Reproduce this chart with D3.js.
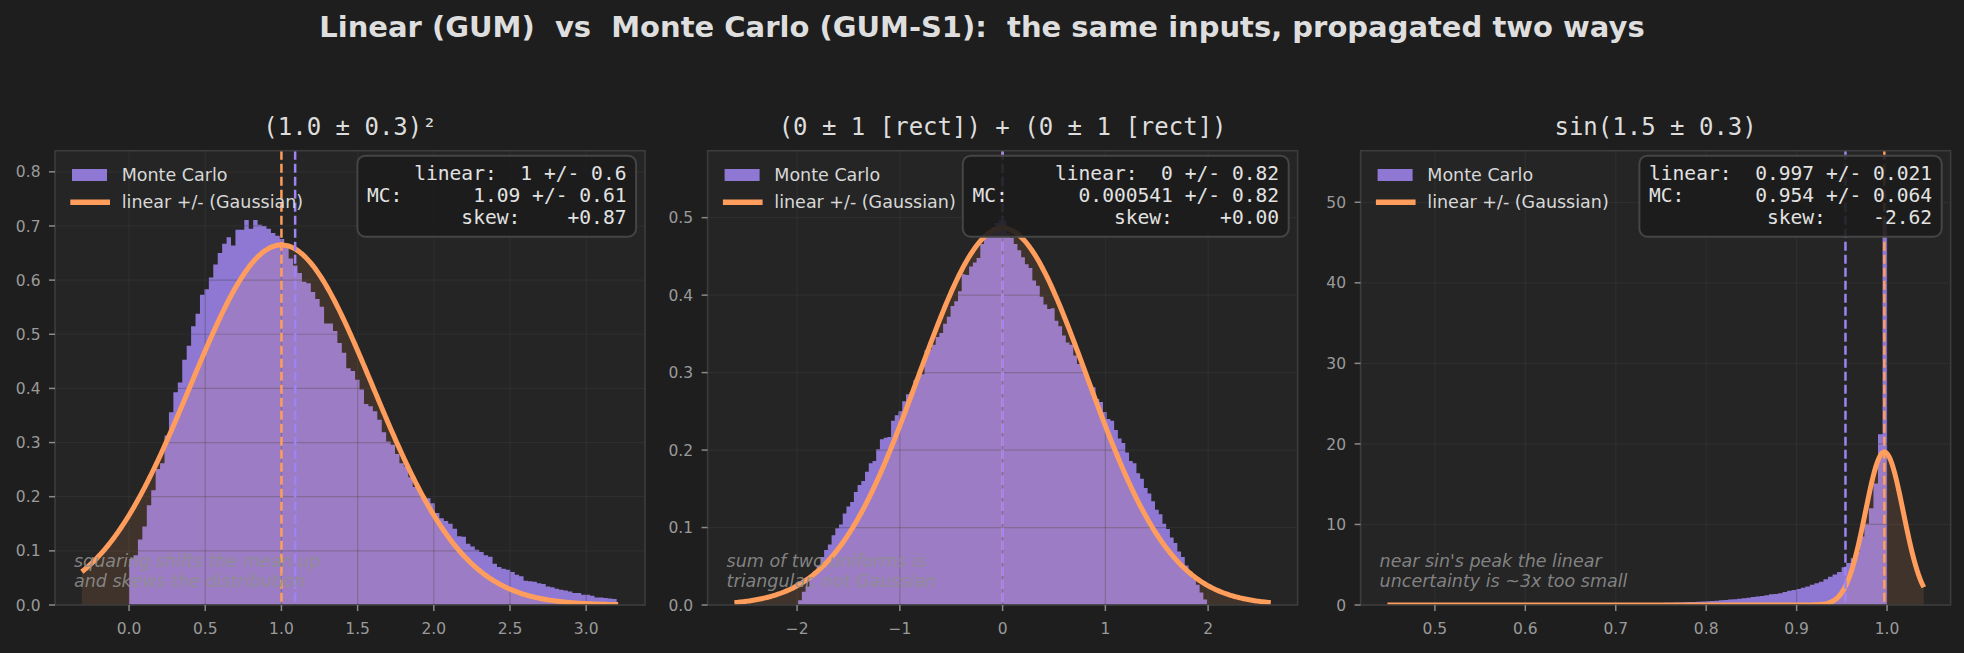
<!DOCTYPE html>
<html>
<head>
<meta charset="utf-8">
<script src="https://cdn.jsdelivr.net/npm/d3@7"></script>
<style>
  body { margin: 0; background: #1e1e1e; }
  text { white-space: pre; }
</style>
</head>
<body>
<div id="chart"></div>
<script>
// ---- data ----
var suptitle = "Linear (GUM)  vs  Monte Carlo (GUM-S1):  the same inputs, propagated two ways";
var panelTitles = ["(1.0 \u00b1 0.3)\u00b2", "(0 \u00b1 1 [rect]) + (0 \u00b1 1 [rect])", "sin(1.5 \u00b1 0.3)"];

// histogram range of each panel (110 equal bins) and densities
var histLo = [0.0, -1.99, 0.4475];
var histHi = [3.20, 1.99, 1.0];

var histSquare = [
  0.085, 0.092, 0.121, 0.145, 0.184, 0.212, 0.251, 0.262, 0.313, 0.356,
  0.393, 0.411, 0.453, 0.479, 0.515, 0.538, 0.573, 0.583, 0.605, 0.629,
  0.650, 0.667, 0.679, 0.664, 0.693, 0.693, 0.711, 0.695, 0.711, 0.702,
  0.700, 0.695, 0.687, 0.682, 0.676, 0.667, 0.640, 0.627, 0.613, 0.597,
  0.594, 0.578, 0.565, 0.551, 0.520, 0.520, 0.506, 0.484, 0.466, 0.437,
  0.432, 0.416, 0.398, 0.371, 0.367, 0.358, 0.342, 0.319, 0.302, 0.296,
  0.279, 0.262, 0.256, 0.236, 0.218, 0.212, 0.200, 0.197, 0.188, 0.170,
  0.160, 0.155, 0.150, 0.141, 0.127, 0.126, 0.113, 0.108, 0.102, 0.098,
  0.092, 0.089, 0.076, 0.070, 0.067, 0.065, 0.061, 0.056, 0.053, 0.045,
  0.044, 0.043, 0.040, 0.039, 0.034, 0.033, 0.030, 0.028, 0.027, 0.025,
  0.022, 0.022, 0.019, 0.019, 0.017, 0.014, 0.014, 0.013, 0.012, 0.011
];

var histRect = [
  0.006, 0.017, 0.024, 0.036, 0.044, 0.051, 0.062, 0.071, 0.078, 0.090,
  0.099, 0.104, 0.118, 0.127, 0.133, 0.146, 0.155, 0.160, 0.172, 0.183,
  0.186, 0.201, 0.214, 0.216, 0.217, 0.238, 0.245, 0.250, 0.263, 0.272,
  0.275, 0.290, 0.301, 0.298, 0.329, 0.330, 0.336, 0.346, 0.351, 0.363,
  0.372, 0.386, 0.392, 0.405, 0.427, 0.426, 0.437, 0.442, 0.448, 0.466,
  0.474, 0.483, 0.488, 0.493, 0.497, 0.496, 0.480, 0.474, 0.466, 0.458,
  0.449, 0.440, 0.435, 0.419, 0.412, 0.398, 0.388, 0.382, 0.383, 0.367,
  0.360, 0.348, 0.339, 0.336, 0.322, 0.311, 0.309, 0.296, 0.284, 0.281,
  0.266, 0.262, 0.249, 0.240, 0.238, 0.226, 0.215, 0.209, 0.197, 0.186,
  0.183, 0.170, 0.163, 0.151, 0.144, 0.134, 0.123, 0.117, 0.105, 0.098,
  0.087, 0.080, 0.069, 0.062, 0.051, 0.044, 0.034, 0.026, 0.016, 0.007
];

var histSin = [
  0.004, 0.002, 0.006, 0.004, 0.008, 0.004, 0.010, 0.006, 0.012, 0.008,
  0.014, 0.010, 0.012, 0.016, 0.014, 0.018, 0.020, 0.016, 0.022, 0.024,
  0.024, 0.026, 0.028, 0.030, 0.028, 0.032, 0.034, 0.030, 0.036, 0.038,
  0.036, 0.040, 0.044, 0.042, 0.048, 0.050, 0.054, 0.052, 0.058, 0.062,
  0.066, 0.072, 0.076, 0.080, 0.086, 0.092, 0.098, 0.104, 0.110, 0.118,
  0.126, 0.134, 0.142, 0.150, 0.162, 0.172, 0.184, 0.196, 0.210, 0.224,
  0.25, 0.265, 0.28, 0.30, 0.32, 0.34, 0.36, 0.385, 0.41, 0.44,
  0.47, 0.50, 0.54, 0.58, 0.62, 0.67, 0.72, 0.78, 0.84, 0.91,
  0.99, 1.05, 1.12, 1.20, 1.32, 1.37, 1.45, 1.62, 1.76, 1.86,
  2.0, 2.15, 2.3, 2.5, 2.7, 2.9, 3.2, 3.5, 3.8, 4.1,
  4.7, 5.2, 5.8, 6.6, 8.5, 10.1, 12.0, 15.1, 21.2, 47.8
];

// linear (GUM) and Monte Carlo summaries
var linearMean = [1, 0, 0.997];
var linearSd = [0.6, 0.82, 0.021];
var mcMean = [1.09, 0.000541, 0.954];
var curveLo = [-0.31, -2.61, 0.4475];
var curveHi = [3.21, 2.61, 1.0406];

var statsText = [
  ["linear:  1 +/- 0.6", "MC:      1.09 +/- 0.61", "skew:    +0.87"],
  ["linear:  0 +/- 0.82", "MC:      0.000541 +/- 0.82", "skew:    +0.00"],
  ["linear:  0.997 +/- 0.021", "MC:      0.954 +/- 0.064", "skew:    -2.62"]
];

var notes = [
  ["squaring shifts the mean up", "and skews the distribution"],
  ["sum of two uniforms is", "triangular, not Gaussian"],
  ["near sin's peak the linear", "uncertainty is ~3x too small"]
];

var xTicks = [[0, 0.5, 1.0, 1.5, 2.0, 2.5, 3.0], [-2, -1, 0, 1, 2], [0.5, 0.6, 0.7, 0.8, 0.9, 1.0]];
var xTickLabels = [["0.0", "0.5", "1.0", "1.5", "2.0", "2.5", "3.0"],
                   ["\u22122", "\u22121", "0", "1", "2"],
                   ["0.5", "0.6", "0.7", "0.8", "0.9", "1.0"]];
var yTicks = [[0, 0.1, 0.2, 0.3, 0.4, 0.5, 0.6, 0.7, 0.8], [0, 0.1, 0.2, 0.3, 0.4, 0.5], [0, 10, 20, 30, 40, 50]];
var yTickLabels = [["0.0", "0.1", "0.2", "0.3", "0.4", "0.5", "0.6", "0.7", "0.8"],
                   ["0.0", "0.1", "0.2", "0.3", "0.4", "0.5"],
                   ["0", "10", "20", "30", "40", "50"]];

var hists = [histSquare, histRect, histSin];
var legendLabels = ["Monte Carlo", "linear +/- (Gaussian)"];

// ---- layout / style ----
var width = 1964, height = 653;
var axLeft = [55, 707.6, 1360.6];
var axW = 590, axTop = 150.7, axBottom = 605;
var figBg = "#1e1e1e", axBg = "#252525";
var purple = "#9b82e8", purpleLine = "#9d84f2", orange = "#ff9d5c";
var sans = "'DejaVu Sans', sans-serif", mono = "'DejaVu Sans Mono', monospace";

var svg = d3.select("#chart").append("svg")
  .attr("width", width)
  .attr("height", height)
  .style("background", figBg);

svg.append("text")
  .attr("x", width / 2)
  .attr("y", 36.7)
  .attr("text-anchor", "middle")
  .attr("font-family", sans)
  .attr("font-weight", "bold")
  .attr("font-size", "29px")
  .attr("fill", "#dedede")
  .text(suptitle);

function normalPdf(x, mu, sd) {
  var z = (x - mu) / sd;
  return Math.exp(-0.5 * z * z) / (sd * Math.sqrt(2 * Math.PI));
}

for (var p = 0; p < 3; p++) {
  var L = axLeft[p];
  var counts = hists[p];
  var nb = counts.length;
  var bw = (histHi[p] - histLo[p]) / nb;

  // x range of data padded by 5% like the original
  var dmin = Math.min(curveLo[p], histLo[p]);
  var dmax = Math.max(curveHi[p], histHi[p]);
  var pad = (dmax - dmin) * 0.05;
  var x = d3.scaleLinear().domain([dmin - pad, dmax + pad]).range([L, L + axW]);
  var y = d3.scaleLinear().domain([0, d3.max(counts) * 1.18]).range([axBottom, axTop]);

  var g = svg.append("g");
  var clipId = "clip" + p;
  g.append("clipPath").attr("id", clipId)
    .append("rect").attr("x", L).attr("y", axTop).attr("width", axW).attr("height", axBottom - axTop);

  g.append("rect")
    .attr("x", L).attr("y", axTop)
    .attr("width", axW).attr("height", axBottom - axTop)
    .attr("fill", axBg);

  var plot = g.append("g").attr("clip-path", "url(#" + clipId + ")");

  // histogram as a step area
  var steps = counts.map(function(c, i) { return {x: histLo[p] + i * bw, y: c}; });
  steps.push({x: histHi[p], y: counts[nb - 1]});
  plot.append("path")
    .datum(steps)
    .attr("fill", purple)
    .attr("opacity", 0.9)
    .attr("d", d3.area()
      .curve(d3.curveStepAfter)
      .x(function(d) { return x(d.x); })
      .y0(y(0))
      .y1(function(d) { return y(d.y); }));

  // grid
  plot.selectAll(".gx").data(xTicks[p]).enter().append("line")
    .attr("x1", function(d) { return x(d); }).attr("x2", function(d) { return x(d); })
    .attr("y1", axTop).attr("y2", axBottom)
    .attr("stroke", "#404040").attr("stroke-opacity", 0.35).attr("stroke-width", 1.2);
  plot.selectAll(".gy").data(yTicks[p]).enter().append("line")
    .attr("x1", L).attr("x2", L + axW)
    .attr("y1", function(d) { return y(d); }).attr("y2", function(d) { return y(d); })
    .attr("stroke", "#404040").attr("stroke-opacity", 0.35).attr("stroke-width", 1.2);

  // linear Gaussian
  var curve = d3.range(0, 401).map(function(i) {
    var xv = curveLo[p] + (curveHi[p] - curveLo[p]) * i / 400;
    return {x: xv, y: normalPdf(xv, linearMean[p], linearSd[p])};
  });
  plot.append("path")
    .datum(curve)
    .attr("fill", orange)
    .attr("fill-opacity", 0.12)
    .attr("d", d3.area()
      .x(function(d) { return x(d.x); })
      .y0(y(0))
      .y1(function(d) { return y(d.y); }));
  plot.append("path")
    .datum(curve)
    .attr("fill", "none")
    .attr("stroke", orange)
    .attr("stroke-width", 5)
    .attr("d", d3.line()
      .x(function(d) { return x(d.x); })
      .y(function(d) { return y(d.y); }));

  // mean markers
  var vlines = [{v: linearMean[p], c: orange}, {v: mcMean[p], c: purpleLine}];
  plot.selectAll(".vl").data(vlines).enter().append("line")
    .attr("x1", function(d) { return x(d.v); }).attr("x2", function(d) { return x(d.v); })
    .attr("y1", axTop).attr("y2", axBottom)
    .attr("stroke", function(d) { return d.c; })
    .attr("stroke-width", 2.5)
    .attr("stroke-dasharray", "9,4");

  // spines
  g.append("rect")
    .attr("x", L).attr("y", axTop)
    .attr("width", axW).attr("height", axBottom - axTop)
    .attr("fill", "none").attr("stroke", "#3c3c3c").attr("stroke-width", 1.6);

  // ticks
  g.selectAll(".tx").data(xTicks[p]).enter().append("line")
    .attr("x1", function(d) { return x(d); }).attr("x2", function(d) { return x(d); })
    .attr("y1", axBottom).attr("y2", axBottom + 6)
    .attr("stroke", "#8a8a8a").attr("stroke-width", 1.5);
  g.selectAll(".txl").data(xTicks[p]).enter().append("text")
    .attr("x", function(d) { return x(d); })
    .attr("y", 634)
    .attr("text-anchor", "middle")
    .attr("font-family", sans).attr("font-size", "15.5px")
    .attr("fill", "#9a9a9a")
    .text(function(d, i) { return xTickLabels[p][i]; });
  g.selectAll(".ty").data(yTicks[p]).enter().append("line")
    .attr("x1", L - 6).attr("x2", L)
    .attr("y1", function(d) { return y(d); }).attr("y2", function(d) { return y(d); })
    .attr("stroke", "#8a8a8a").attr("stroke-width", 1.5);
  g.selectAll(".tyl").data(yTicks[p]).enter().append("text")
    .attr("x", L - 14.5)
    .attr("y", function(d) { return y(d) + 5.6; })
    .attr("text-anchor", "end")
    .attr("font-family", sans).attr("font-size", "15.5px")
    .attr("fill", "#9a9a9a")
    .text(function(d, i) { return yTickLabels[p][i]; });

  // panel title
  g.append("text")
    .attr("x", L + axW / 2)
    .attr("y", 135)
    .attr("text-anchor", "middle")
    .attr("font-family", mono).attr("font-size", "24px")
    .attr("fill", "#dddddd")
    .text(panelTitles[p]);

  // legend
  g.append("rect")
    .attr("x", L + 17).attr("y", 169)
    .attr("width", 35).attr("height", 12)
    .attr("fill", purple).attr("opacity", 0.9);
  g.append("line")
    .attr("x1", L + 15.3).attr("x2", L + 55)
    .attr("y1", 202.3).attr("y2", 202.3)
    .attr("stroke", orange).attr("stroke-width", 5.5);
  g.selectAll(".lg").data(legendLabels).enter().append("text")
    .attr("x", L + 66.7)
    .attr("y", function(d, i) { return 180.8 + i * 27.5; })
    .attr("font-family", sans).attr("font-size", "17.5px")
    .attr("fill", "#d8d8d8")
    .text(function(d) { return d; });

  // note
  g.selectAll(".nt").data(notes[p]).enter().append("text")
    .attr("x", L + 19)
    .attr("y", function(d, i) { return 566.7 + i * 20.7; })
    .attr("font-family", sans).attr("font-size", "17.5px")
    .attr("font-style", "italic")
    .attr("fill", "#8f8f8f").attr("fill-opacity", 0.9)
    .text(function(d) { return d; });

  // stats box
  var box = g.append("g");
  var boxRect = box.append("rect");
  var st = box.append("text")
    .attr("text-anchor", "end")
    .attr("font-family", mono).attr("font-size", "19.6px")
    .attr("fill", "#e2e2e2");
  st.selectAll("tspan").data(statsText[p]).enter().append("tspan")
    .attr("x", L + axW - 18.5)
    .attr("y", function(d, i) { return 180 + i * 22; })
    .text(function(d) { return d; });
  var bb = st.node().getBBox();
  boxRect
    .attr("x", bb.x - 9.6).attr("y", axTop + 5)
    .attr("width", bb.width + 19.2).attr("height", 81)
    .attr("rx", 8).attr("ry", 8)
    .attr("fill", "#1c1c1c").attr("fill-opacity", 0.9)
    .attr("stroke", "#454545").attr("stroke-width", 2);
}
</script>
</body>
</html>
